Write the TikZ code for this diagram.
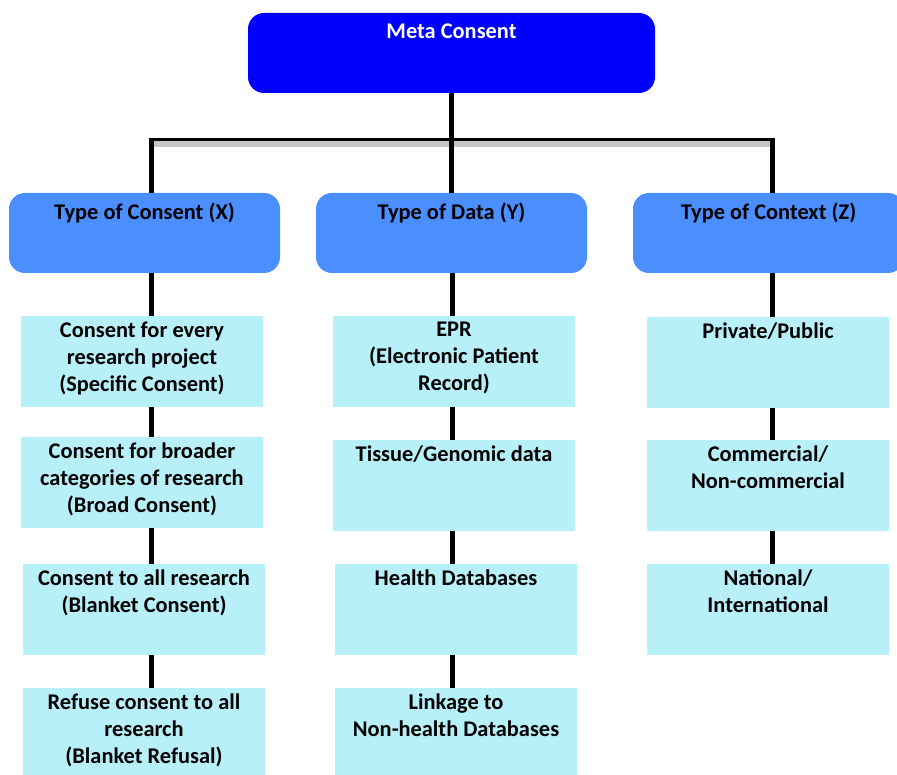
\documentclass[tikz,border=0pt]{standalone}
\usepackage{fontspec}
\setmainfont{Carlito}
\usetikzlibrary{positioning}
\definecolor{metablue}{RGB}{0,0,255}
\definecolor{catblue}{RGB}{74,142,255}
\definecolor{leafcyan}{RGB}{184,240,250}
\tikzset{
	metabox/.style={fill=metablue,rounded corners=16pt,minimum width=407pt,minimum height=80pt,anchor=north west,inner sep=0pt,outer sep=0pt},
	catbox/.style={fill=catblue,rounded corners=16pt,minimum width=271pt,minimum height=80pt,anchor=north west,inner sep=0pt,outer sep=0pt},
	leafbox/.style={fill=leafcyan,minimum width=242pt,minimum height=91pt,anchor=north west,inner sep=0pt,outer sep=0pt},
	boxtext/.style={font=\fontsize{22.4}{27}\selectfont\bfseries,align=center,inner sep=0pt,anchor=north},
	link/.style={line width=5pt}
}
\begin{document}
\begin{tikzpicture}[x=1pt,y=-1pt]
	\useasboundingbox (0,0) rectangle (897,775);
	\clip (0,0) rectangle (897,775);
	% top and categories
	\node[metabox] (meta) at (248,13) {};
	\node[boxtext,white,below=11pt of meta.north] (metatext) {Meta Consent};
	\node[catbox] (catX) at (9,193) {};
	\node[catbox] (catY) at (316,193) {};
	\node[catbox] (catZ) at (633,193) {};
	\node[boxtext,below=10pt of catX.north] (catXtext) {Type of Consent (X)};
	\node[boxtext,below=10pt of catY.north] (catYtext) {Type of Data (Y)};
	\node[boxtext,below=10pt of catZ.north] (catZtext) {Type of Context (Z)};
	% leaves
	\node[leafbox] (x1) at (21,316) {};
	\node[leafbox] (x2) at (21,437) {};
	\node[leafbox] (x3) at (23,564) {};
	\node[leafbox] (x4) at (23,688) {};
	\node[leafbox] (y1) at (333,316) {};
	\node[leafbox] (y2) at (333,440) {};
	\node[leafbox] (y3) at (335,564) {};
	\node[leafbox] (y4) at (335,688) {};
	\node[leafbox] (z1) at (647,317) {};
	\node[leafbox] (z2) at (647,440) {};
	\node[leafbox] (z3) at (647,564) {};
	\node[boxtext,below=6pt of x1.north] (x1text) {Consent for every\\research project\\(Specific Consent)};
	\node[boxtext,below=6pt of x2.north] (x2text) {Consent for broader\\categories of research\\(Broad Consent)};
	\node[boxtext,below=6pt of x3.north] (x3text) {Consent to all research\\(Blanket Consent)};
	\node[boxtext,below=6pt of x4.north] (x4text) {Refuse consent to all\\research\\(Blanket Refusal)};
	\node[boxtext,below=6pt of y1.north] (y1text) {EPR\\(Electronic Patient\\Record)};
	\node[boxtext,below=6pt of y2.north] (y2text) {Tissue/Genomic data};
	\node[boxtext,below=6pt of y3.north] (y3text) {Health Databases};
	\node[boxtext,below=6pt of y4.north] (y4text) {Linkage to\\Non-health Databases};
	\node[boxtext,below=6pt of z1.north] (z1text) {Private/Public};
	\node[boxtext,below=6pt of z2.north] (z2text) {Commercial/\\Non-commercial};
	\node[boxtext,below=6pt of z3.north] (z3text) {National/\\International};
	% connectors
	\coordinate (barL) at (151,139.5);
	\coordinate (barM) at (452,139.5);
	\coordinate (barR) at (772,139.5);
	\fill[gray!45] ([yshift=-1.5pt]barL) rectangle ([yshift=-7.5pt]barR);
	\draw[line width=3pt] (barL) -- (barR);
	\draw[link] (meta.south) -- (catY.north);
	\draw[link] (barL |- catX.north) -- ([yshift=1.5pt]barL);
	\draw[link] (barR |- catZ.north) -- ([yshift=1.5pt]barR);
	\foreach \a/\b in {catX/x1,x1/x2,x2/x3,x3/x4}
		\draw[link] (barL |- \a.south) -- (barL |- \b.north);
	\foreach \a/\b in {catY/y1,y1/y2,y2/y3,y3/y4}
		\draw[link] (barM |- \a.south) -- (barM |- \b.north);
	\foreach \a/\b in {catZ/z1,z1/z2,z2/z3}
		\draw[link] (barR |- \a.south) -- (barR |- \b.north);
\end{tikzpicture}
\end{document}
